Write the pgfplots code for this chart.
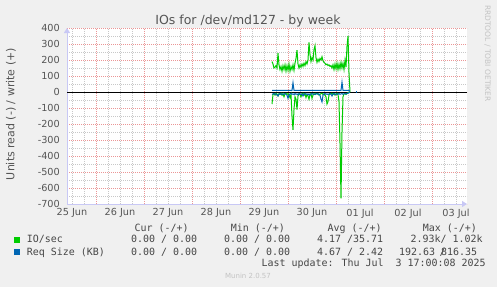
\documentclass[border=0pt]{standalone}
\usepackage{fontspec}
\setmainfont{DejaVu Sans}
\newfontfamily\monofont{DejaVu Sans Mono}
\usepackage{pgfplots}
\pgfplotsset{compat=1.18}
\usepackage{pgfplotstable}
\usetikzlibrary{arrows.meta}

\definecolor{bgc}{RGB}{240,240,240}
\definecolor{mgrid}{RGB}{235,150,150}
\definecolor{ngrid}{RGB}{200,200,200}
\definecolor{axc}{RGB}{200,200,245}
\definecolor{cgreen}{RGB}{0,204,0}
\definecolor{cblue}{RGB}{0,102,179}
\definecolor{txt}{RGB}{85,85,85}
\definecolor{legtxt}{RGB}{70,70,70}
\definecolor{wm}{RGB}{195,195,195}

% h = hours since 25 Jun 00:00; wr = IO/sec write(+), rd = IO/sec read(-), sw = req size write(+), sr = req size read(-)
\pgfplotstableread{
h wr rd sw sr
112.0 190 -75 10 -15
112.5 175 -15 10 -12
113.0 150 -10 10 -10
113.5 155 -20 10 -14
114.0 165 -8 10 -12
114.5 150 -12 10 -18
115.0 242 -25 10 -25
115.5 170 -10 10 -12
116.0 140 -15 10 -10
116.5 160 -8 10 -14
117.0 130 -20 10 -12
117.5 165 -10 10 -16
118.0 140 -30 10 -12
118.5 170 -12 10 -10
119.0 130 -8 10 -14
119.5 165 -15 10 -20
120.0 135 -10 10 -40
120.5 175 -20 10 -18
121.0 130 -35 10 -12
121.5 160 -15 10 -10
122.0 140 -150 10 -14
122.5 170 -237 58 -12
123.0 135 -110 10 -16
123.5 180 -30 10 -10
124.0 210 -45 10 -14
124.5 262 -110 10 -12
125.0 175 -25 10 -18
125.5 150 -10 10 -10
126.0 170 -15 10 -12
126.5 155 -30 10 -16
127.0 175 -10 10 -12
127.5 160 -8 10 -25
128.0 180 -20 10 -12
128.5 165 -10 10 -10
129.0 190 -35 10 -14
129.5 175 -15 10 -12
130.0 200 -25 10 -18
130.5 310 -45 10 -12
131.0 235 -15 10 -20
131.5 190 -10 10 -12
132.0 215 -40 10 -10
132.5 200 -20 10 -14
133.0 265 -10 10 -12
133.5 290 -15 10 -16
134.0 215 -8 10 -12
134.5 185 -12 10 -10
135.0 205 -10 10 -14
135.5 190 -20 10 -12
136.0 210 -15 10 -20
136.5 200 -10 10 -45
137.0 220 -8 10 -62
137.5 195 -15 10 -20
138.0 185 -12 10 -12
138.5 180 -20 10 -10
139.0 170 -30 10 -14
139.5 175 -75 10 -12
140.0 165 -60 10 -16
140.5 170 -20 10 -12
141.0 160 -10 10 -10
141.5 165 -12 10 -14
142.0 150 -8 10 -25
142.5 170 -15 10 -12
143.0 140 -10 10 -10
143.5 175 -20 10 -14
144.0 145 -12 10 -12
144.5 180 -8 10 -16
145.0 140 -15 10 -12
145.5 175 -60 10 -10
146.0 145 -320 10 -14
146.5 185 -665 10 -12
147.0 150 -250 62 -10
147.5 180 -30 10 -14
148.0 140 -12 10 -12
148.5 200 -10 10 -10
149.0 155 -15 10 -12
149.5 285 -8 10 -10
150.0 350 -5 10 -8
150.5 120 -3 10 -5
151.0 0 0 5 -2
}\iodata

\begin{document}
\begin{tikzpicture}
\fill[bgc] (0,0) rectangle (497bp,-287bp);
\useasboundingbox (0,0) rectangle (497bp,-287bp);

\begin{axis}[
  at={(67bp,-204bp)}, anchor=south west,
  scale only axis, width=400bp, height=176bp,
  xmin=9.5, xmax=209.5, ymin=-700, ymax=400,
  axis lines=left,
  axis line style={draw=axc, line width=1bp, -{Triangle[length=5bp,width=6bp]}},
  axis background/.style={fill=white},
  xtick={12,36,60,84,108,132,156,180,204},
  xticklabels={25 Jun,26 Jun,27 Jun,28 Jun,29 Jun,30 Jun,01 Jul,02 Jul,03 Jul},
  minor xtick={12,18,30,36,42,54,60,66,78,84,90,102,108,114,126,132,138,150,156,162,174,180,186,198,204},
  extra x ticks={24,48,72,96,120,144,168,192},
  extra x tick labels={},
  extra x tick style={grid=major, major grid style={mgrid, dash pattern=on 1bp off 1bp, line width=1bp}},
  ytick={-700,-600,-500,-400,-300,-200,-100,0,100,200,300,400},
  yticklabels={-700,-600,-500,-400,-300,-200,-100,0,100,200,300,400},
  minor ytick={-650,-550,-450,-350,-250,-150,-50,50,150,250,350},
  ymajorgrids,
  major grid style={mgrid, dash pattern=on 1bp off 1bp, line width=1bp},
  xminorgrids, yminorgrids,
  minor grid style={ngrid, dash pattern=on 1bp off 1bp, line width=1bp},
  extra y ticks={0},
  extra y tick labels={},
  extra y tick style={grid=major, major grid style={black, solid, line width=1bp}},
  major tick length=0pt, minor tick length=0pt,
  tick label style={font=\fontsize{9.7bp}{11bp}\selectfont, text=txt, inner sep=0pt},
  xticklabel style={anchor=north, yshift=-4.5bp},
  yticklabel style={anchor=east, xshift=-7bp},
]
\addplot[cgreen, line width=1bp] table[x=h, y=rd] {\iodata};
\addplot[cgreen, line width=1bp] table[x=h, y=wr] {\iodata};
\addplot[cblue, line width=1bp] table[x=h, y=sr] {\iodata};
\addplot[cblue, line width=1bp] table[x=h, y=sw] {\iodata};
\addplot[cblue, line width=1bp] coordinates {(154,4) (154,-6)};
\end{axis}

% title
\node[anchor=base, inner sep=0pt, text=txt, font=\fontsize{12.5bp}{14bp}\selectfont] at (248bp,-24bp) {IOs for /dev/md127 - by week};
% y label
\node[rotate=90, inner sep=0pt, text=txt, font=\fontsize{11bp}{13bp}\selectfont] at (11bp,-114bp) {Units read (-) / write (+)};
% watermark
\node[rotate=-90, anchor=base west, inner sep=0pt, text=wm, font=\fontsize{7.5bp}{9bp}\selectfont] at (485bp,-5bp) {RRDTOOL / TOBI OETIKER};

% legend
\begin{scope}[every node/.style={anchor=base west, inner sep=0pt, text=legtxt, font=\monofont\fontsize{9.97bp}{12bp}\selectfont}]
\node at (134.3bp,-231bp) {Cur (-/+)};
\node at (230.7bp,-231bp) {Min (-/+)};
\node at (327.3bp,-231bp) {Avg (-/+)};
\node at (422.7bp,-231bp) {Max (-/+)};

\fill[cgreen] (14bp,-236.5bp) rectangle (20bp,-242.5bp);
\node at (26.7bp,-242.7bp) {IO/sec};
\node at (131bp,-242.7bp) {0.00 / 0.00};
\node at (224bp,-242.7bp) {0.00 / 0.00};
\node at (317bp,-242.7bp) {4.17 /35.71};
\node at (410.5bp,-242.7bp) {2.93k/ 1.02k};

\fill[cblue] (14bp,-249bp) rectangle (20bp,-255bp);
\node at (26.7bp,-255bp) {Req Size (KB)};
\node at (131bp,-255bp) {0.00 / 0.00};
\node at (224bp,-255bp) {0.00 / 0.00};
\node at (317bp,-255bp) {4.67 / 2.42};
\node at (399bp,-255bp) {192.63\ \kern-1.5bp\rlap{/}\kern1.5bp 816.35};

\node at (261.3bp,-266.7bp) {Last update: Thu Jul\ \ 3 17:00:08 2025};
\end{scope}
\node[anchor=base, inner sep=0pt, text=wm, font=\fontsize{7bp}{8bp}\selectfont] at (248bp,-278bp) {Munin 2.0.57};
\end{tikzpicture}
\end{document}
